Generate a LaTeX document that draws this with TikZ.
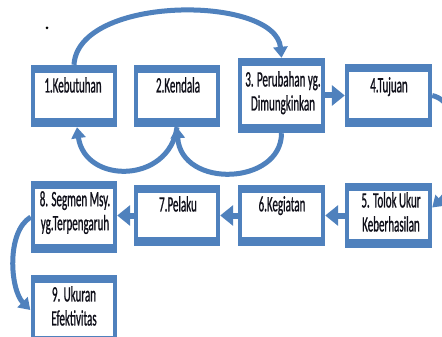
\documentclass[tikz,border=0pt]{standalone}
\usepackage{fontspec}
\newfontfamily\boxfont[FakeStretch=0.5,FakeBold=0.8]{Carlito}
\usetikzlibrary{arrows.meta}
\definecolor{ofblue}{RGB}{79,129,189}
\definecolor{txt}{RGB}{15,15,25}
\tikzset{
  box/.style={fill=ofblue, draw=none, inner sep=0pt, minimum width=86pt, minimum height=62pt,
    path picture={\fill[white] ([xshift=4pt,yshift=9pt]path picture bounding box.south west) rectangle ([xshift=-4pt,yshift=-8pt]path picture bounding box.north east);}},
  lbl/.style={anchor=north, inner sep=0pt, align=center, text=txt, font=\boxfont\fontsize{22}{24}\selectfont},
  straight/.style={draw=ofblue, line width=6pt, -{Triangle[length=13pt,width=20pt]}},
  curved/.style={draw=ofblue, line width=5pt, -{Triangle[length=11pt,width=14pt]}}
}
\begin{document}
\begin{tikzpicture}[x=1pt,y=-1pt]
\clip (0,0) rectangle (442,337);
\fill[white] (0,0) rectangle (442,337);
\fill[black] (47,28) circle[radius=1.5pt];
% boxes
\node[box] (b1) at (74,96) {};
\node[box] (b2) at (177,96) {};
\node[box, minimum width=87pt, minimum height=75pt] (b3) at (281.5,95.5) {};
\node[box, minimum width=87pt] (b4) at (388.5,95.5) {};
\node[box, minimum width=87pt, minimum height=65pt] (b5) at (388.5,215.5) {};
\node[box, minimum width=87pt, minimum height=61pt] (b6) at (281.5,215.5) {};
\node[box, minimum height=61pt] (b7) at (177,215.5) {};
\node[box, minimum height=72pt] (b8) at (74,217) {};
\node[box, minimum height=70pt] (b9) at (73.5,310) {};
% labels
\node[lbl] (t1) at (73,77) {1.Kebutuhan};
\node[lbl] (t2) at (178,77) {2.Kendala};
\node[lbl] (t3) at (283,71) {3. Perubahan yg.\\ Dimungkinkan};
\node[lbl] (t4) at (389,77) {4.Tujuan};
\node[lbl] (t5) at (391,192) {5. Tolok Ukur\\ Keberhasilan};
\node[lbl] (t6) at (282,196) {6.Kegiatan};
\node[lbl] (t7) at (178,196) {7.Pelaku};
\node[lbl] (t8) at (75,191) {8. Segmen Msy.\\ yg.Terpengaruh};
\node[lbl] (t9) at (74,286) {9. Ukuran\\ Efektivitas};
% connectors
\draw[straight] (b3.east) -- (b4.west);
\draw[straight] (b5.west) -- (b6.east);
\draw[straight] (b6.west) -- (b7.east);
\draw[straight] (b7.west) -- (b7.west -| b8.east);
\draw[curved] (b1.north) .. controls +(4,-70) and +(-6,-63) .. (b3.north);
\draw[curved] (b2.south) .. controls +(-8,57) and +(8,57) .. ([xshift=3pt]b1.south);
\draw[curved] (b3.south) .. controls +(0,52) and +(4,62) .. (b2.south);
\draw[curved] (b4.east) .. controls +(35,8) and +(30,-27) .. ([yshift=8pt]b5.east);
\draw[curved] (b8.west) .. controls +(-25,15) and +(-20,-20) .. (b9.west);
\end{tikzpicture}
\end{document}
